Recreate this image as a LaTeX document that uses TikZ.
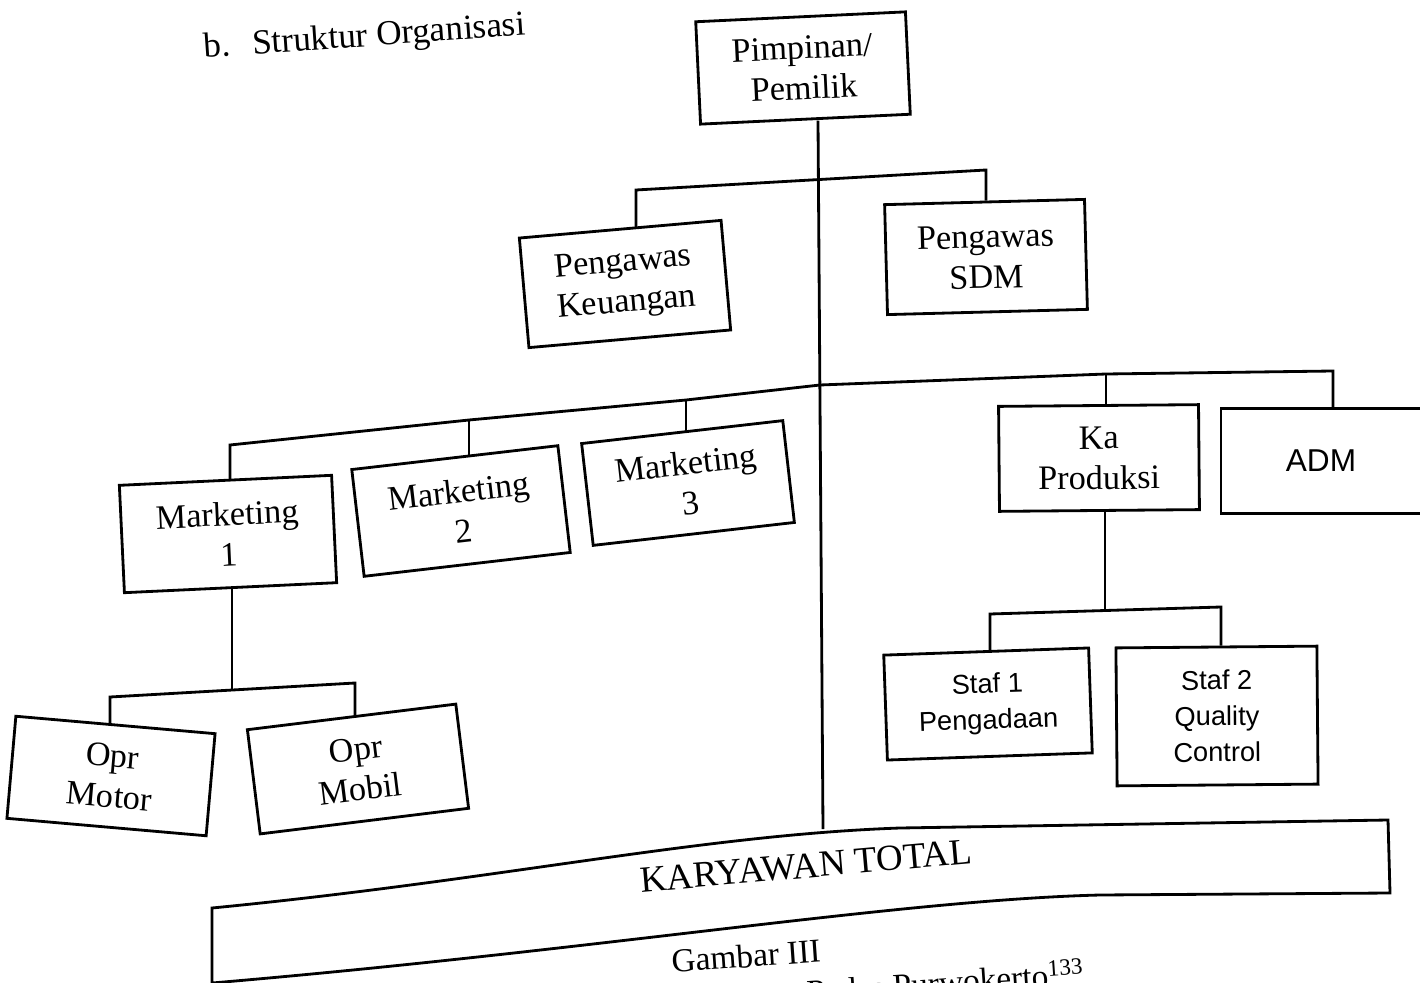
\documentclass[tikz,border=0pt]{standalone}
\usepackage{fontspec}
\setmainfont{Liberation Serif}
\newfontfamily\arialfont{Liberation Sans}
\begin{document}
\begin{tikzpicture}[x=0.02cm, y=-0.02cm, line width=1.6pt, font=\fontsize{19.5}{23}\selectfont]
    \tikzstyle{block}=[draw, line width=1.6pt, minimum width=4.05cm, minimum height=2.1cm, align=center, inner sep=2pt]
    \tikzstyle{sansblock}=[block, font=\arialfont\fontsize{15.5}{20.5}\selectfont]
    \useasboundingbox (0,0) rectangle (1420,983);
    \clip (0,0) rectangle (1420,983);
    \node[rotate=4, font=\fontsize{20}{24}\selectfont] (title) at (365,38) {b.\hspace{0.3em} Struktur Organisasi};
    \node[block, rotate=2.7, minimum width=4.2cm, minimum height=2.05cm] (boss) at (803,68) {Pimpinan/\\Pemilik};
    \node[block, rotate=5, minimum height=2.2cm] (keu) at (625,284) {Pengawas\\Keuangan};
    \node[block, rotate=1.5, minimum width=4cm, minimum height=2.2cm] (sdm) at (986,257) {Pengawas\\SDM};
    \draw (636,0 |- keu.north) -- (636,190) -- (986,170) -- (986,0 |- sdm.north);
    \node[block, rotate=2.7, minimum width=4.25cm, minimum height=2.15cm] (mk1) at (228,534) {Marketing\\1};
    \node[block, rotate=6.6, minimum width=4.15cm, minimum height=2.15cm] (mk2) at (461,511) {Marketing\\2};
    \node[block, rotate=6.5, minimum height=2.05cm] (mk3) at (688,483) {Marketing\\3};
    \node[block, rotate=0.5, minimum width=4cm] (kapro) at (1099,458) {Ka\\Produksi};
    \node[sansblock, minimum width=4cm, font=\arialfont\fontsize{18}{22}\selectfont] (adm) at (1321,461) {ADM};
    \draw (230,0 |- mk1.north) -- (230,445) -- (469,420) -- (686,400) -- (820,385) -- (1106,374) -- (1333,371) -- (1333,0 |- adm.north);
    \draw (469,420) -- (469,0 |- mk2.north); \draw (686,400) -- (686,0 |- mk3.north); \draw (1106,374) -- (1106,0 |- kapro.north);
    \node[block, rotate=-5, minimum width=4cm, minimum height=2.05cm] (opmot) at (111,776) {Opr\\Motor};
    \node[block, rotate=7, minimum width=4.2cm] (opmob) at (358,769) {Opr\\Mobil};
    \draw (232,0 |- mk1.south) -- (232,690);
    \draw (110,0 |- opmot.north) -- (110,697) -- (355,683) -- (355,0 |- opmob.north);
    \node[sansblock, rotate=2, minimum width=4.1cm] (staf1) at (988,704) {Staf 1\\Pengadaan};
    \node[sansblock, rotate=0.5, minimum width=4.02cm, minimum height=2.76cm] (staf2) at (1217,716) {Staf 2\\Quality\\Control};
    \draw (1105,0 |- kapro.south) -- (1105,610);
    \draw (990,0 |- staf1.north) -- (990,614) -- (1221,607) -- (1221,0 |- staf2.north);
    \draw (212,983) -- (212,908) .. controls (500,880) and (700,835) .. (900,828) -- (1388,820) -- (1390,893) -- (1100,895) .. controls (900,900) and (600,950) .. (212,983);
    \node[rotate=5, font=\fontsize{21}{24}\selectfont] (total) at (806,866) {KARYAWAN TOTAL};
    \coordinate (trunkend) at (823,829);
    \draw (818,0 |- boss.south) -- (trunkend);
    \node[rotate=4, font=\fontsize{19}{22}\selectfont] (fig) at (746,956) {Gambar III};
    \node[rotate=4, anchor=base east, font=\fontsize{19}{22}\selectfont] (figname) at (1092,984) {Putra Pades Purwokerto\textsuperscript{133}};
\end{tikzpicture}
\end{document}
